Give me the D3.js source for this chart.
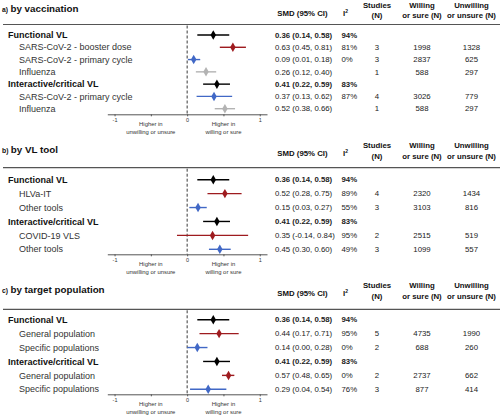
<!DOCTYPE html>
<html><head><meta charset="utf-8">
<script src="https://cdn.jsdelivr.net/npm/d3@7"></script>
<style>
body{margin:0;background:#fff;}
svg{display:block;font-family:"Liberation Sans",Arial,sans-serif;}
</style></head>
<body><svg id="c" width="500" height="420"></svg>
<script>
// ---- data ----
const panelLetters = ["a)", "b)", "c)"];
const panelTitles = ["by vaccination", "by VL tool", "by target population"];
const rowLabels = [
  ["Functional VL","SARS-CoV-2 - booster dose","SARS-CoV-2 - primary cycle","Influenza","Interactive/critical VL","SARS-CoV-2 - primary cycle","Influenza"],
  ["Functional VL","HLVa-IT","Other tools","Interactive/critical VL","COVID-19 VLS","Other tools"],
  ["Functional VL","General population","Specific populations","Interactive/critical VL","General population","Specific populations"]
];
const rowGroup = [
  ["overall","red","blue","gray","overall","blue","gray"],
  ["overall","red","blue","overall","red","blue"],
  ["overall","red","blue","overall","red","blue"]
];
const smd = [
  [0.36,0.63,0.09,0.26,0.41,0.37,0.52],
  [0.36,0.52,0.15,0.41,0.35,0.45],
  [0.36,0.44,0.14,0.41,0.57,0.29]
];
const ciLow = [
  [0.14,0.45,0.01,0.12,0.22,0.13,0.38],
  [0.14,0.28,0.03,0.22,-0.14,0.30],
  [0.14,0.17,0.00,0.22,0.48,0.04]
];
const ciHigh = [
  [0.58,0.81,0.18,0.40,0.59,0.62,0.66],
  [0.58,0.75,0.27,0.59,0.84,0.60],
  [0.58,0.71,0.28,0.59,0.65,0.54]
];
const i2 = [
  ["94%","81%","0%","","83%","87%",""],
  ["94%","89%","55%","83%","95%","49%"],
  ["94%","95%","0%","83%","0%","76%"]
];
const studies = [
  ["","3","3","1","","4","1"],
  ["","4","3","","2","3"],
  ["","5","2","","2","3"]
];
const willing = [
  ["","1998","2837","588","","3026","588"],
  ["","2320","3103","","2515","1099"],
  ["","4735","688","","2737","877"]
];
const unwilling = [
  ["","1328","625","297","","779","297"],
  ["","1434","816","","519","557"],
  ["","1990","260","","662","414"]
];
const axisTicks = [-1, -0.5, 0, 0.5, 1];
const axisTickLabels = ["-1", "", "0", "", "1"];

// ---- layout ----
const colors = {overall:"#000000", red:"#9e1b1f", blue:"#4168c6", gray:"#b3b3b3"};
const layouts = [
  {title:6.5, hdrTop:5, hdrBot:15.5, hdrMid:13, line:24.5, row0:35, rowN:108.7, axis:114.3},
  {title:147, hdrTop:145, hdrBot:156, hdrMid:153, line:167.7, row0:179.7, rowN:249.3, axis:254.3},
  {title:287, hdrTop:285, hdrBot:296, hdrMid:293, line:309.3, row0:319.7, rowN:389.3, axis:394.3}
];
const svg = d3.select("#c");
const x = d3.scaleLinear().domain([-1.1, 1.1]).range([107.3, 267]);
const colSMD = 275, colI2 = 341.5, colStud = 377, colWill = 422, colUnw = 471.5;
const txtSize = 7.8;

panelTitles.forEach((title, p) => {
  const L = layouts[p];
  const g = svg.append("g");
  const n = rowLabels[p].length;
  const y = d3.scaleLinear().domain([0, n-1]).range([L.row0, L.rowN]);

  // title
  const t = g.append("text").attr("x", 2).attr("y", L.title).attr("dy", "0.35em")
    .attr("font-weight", "bold").attr("fill", "#111");
  t.append("tspan").attr("font-size", 6.8).text(panelLetters[p] + " ");
  t.append("tspan").attr("font-size", 9.8).attr("dx", 0.5).text(title);

  // headers
  const hdr = (xx, yy, s, anchor="middle") => g.append("text").attr("x", xx).attr("y", yy)
    .attr("dy","0.35em").attr("text-anchor", anchor).attr("font-size", txtSize)
    .attr("font-weight","bold").attr("fill","#111").text(s);
  hdr(302.5, L.hdrMid, "SMD (95% CI)");
  const ih = g.append("text").attr("x", 345.5).attr("y", L.hdrMid).attr("dy","0.35em")
    .attr("text-anchor","middle").attr("font-size", txtSize).attr("font-weight","bold").attr("fill","#111");
  ih.append("tspan").text("I");
  ih.append("tspan").attr("font-size", 5).attr("dy", "-3").text("2");
  hdr(colStud, L.hdrTop, "Studies"); hdr(colStud, L.hdrBot, "(N)");
  hdr(colWill, L.hdrTop, "Willing"); hdr(colWill, L.hdrBot, "or sure (N)");
  hdr(colUnw, L.hdrTop, "Unwilling"); hdr(colUnw, L.hdrBot, "or unsure (N)");

  // header line
  g.append("line").attr("x1", 3).attr("x2", 500).attr("y1", L.line).attr("y2", L.line)
    .attr("stroke", "#555").attr("stroke-width", 1.2);

  // zero line
  g.append("line").attr("x1", x(0)).attr("x2", x(0)).attr("y1", L.line + 1).attr("y2", L.axis)
    .attr("stroke", "#222").attr("stroke-width", 0.9).attr("stroke-dasharray", "3,2");

  // axis
  const ax = g.append("g").attr("transform", `translate(0,${L.axis})`)
    .call(d3.axisBottom(x).tickValues(axisTicks)
      .tickFormat((d,i) => axisTickLabels[i]).tickSize(2).tickSizeOuter(0).tickPadding(1.5));
  ax.select(".domain").attr("stroke", "#555").attr("stroke-width", 1);
  ax.selectAll(".tick line").attr("stroke", "#555");
  ax.selectAll(".tick text").attr("font-size", 5.5).attr("fill", "#333")
    .attr("font-family", "Liberation Sans, Arial, sans-serif");

  const note = (xv, lines) => lines.forEach((s, k) => g.append("text")
    .attr("x", x(xv)).attr("y", L.axis + 9.5 + k * 8.5).attr("dy","0.35em")
    .attr("text-anchor","middle").attr("font-size", 5.9).attr("fill","#333").text(s));
  note(-0.5, ["Higher in", "unwilling or unsure"]);
  note(0.5, ["Higher in", "willing or sure"]);

  // rows
  rowLabels[p].forEach((lab, i) => {
    const yy = y(i);
    const isOverall = rowGroup[p][i] === "overall";
    const col = colors[rowGroup[p][i]];
    g.append("text").attr("x", isOverall ? 8 : 19).attr("y", yy).attr("dy","0.35em")
      .attr("font-size", 9).attr("font-weight", isOverall ? "bold" : "normal")
      .attr("fill", isOverall ? "#111" : "#333").text(lab);
    // CI
    g.append("line").attr("x1", x(ciLow[p][i])).attr("x2", x(ciHigh[p][i]))
      .attr("y1", yy).attr("y2", yy).attr("stroke", col).attr("stroke-width", 1.4);
    g.append("path").attr("transform", `translate(${x(smd[p][i])},${yy})`)
      .attr("d", d3.symbol(d3.symbolDiamond, 26)()).attr("fill", col);
    // columns
    const cell = (xx, s, anchor) => g.append("text").attr("x", xx).attr("y", yy).attr("dy","0.35em")
      .attr("text-anchor", anchor).attr("font-size", txtSize)
      .attr("font-weight", isOverall ? "bold" : "normal").attr("fill", "#222").text(s);
    const ciTxt = `${smd[p][i].toFixed(2)} (${ciLow[p][i].toFixed(2)}, ${ciHigh[p][i].toFixed(2)})`;
    cell(colSMD, ciTxt, "start");
    cell(colI2, i2[p][i], "start");
    cell(colStud, studies[p][i], "middle");
    cell(colWill, willing[p][i], "middle");
    cell(colUnw, unwilling[p][i], "middle");
  });
});
</script></body></html>
